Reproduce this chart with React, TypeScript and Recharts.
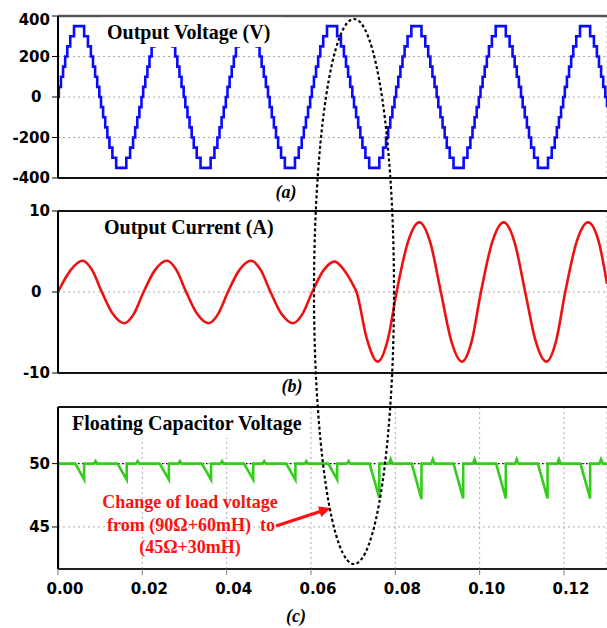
import React from "react";
import { LineChart, Line, XAxis, YAxis, CartesianGrid, ReferenceLine } from "recharts";

const tEnd = 0.1302;
const gridTimes = [0.02, 0.04, 0.06, 0.08, 0.1, 0.12];
const timeTicks = [0, 0.02, 0.04, 0.06, 0.08, 0.1, 0.12];

// (a) output voltage - one cycle of the 15-level staircase, repeated every period
const cycleStarts = [0, 0.02, 0.04, 0.06, 0.08, 0.1, 0.12];
const stepOffsets = [
  0, 0.0002, 0.0007, 0.0012, 0.0017, 0.0022, 0.0029, 0.0038, 0.0062, 0.0071, 0.0078, 0.0083, 0.0088, 0.0093,
  0.0098, 0.0102, 0.0107, 0.0112, 0.0117, 0.0122, 0.0129, 0.0138, 0.0162, 0.0171, 0.0178, 0.0183, 0.0188,
  0.0193, 0.0198,
];
const stepLevels = [
  0, 50, 100, 150, 200, 250, 300, 350, 300, 250, 200, 150, 100, 50, 0, -50, -100, -150, -200, -250, -300, -350,
  -300, -250, -200, -150, -100, -50, 0,
];
const voltageTicks = [-400, -200, 0, 200, 400];

// (b) output current
const currentTime = [
  0, 0.003, 0.0058, 0.0081, 0.0104, 0.013, 0.0157, 0.018,
  0.0203, 0.023, 0.0258, 0.0281, 0.0304, 0.033, 0.0357, 0.038,
  0.0403, 0.043, 0.0458, 0.0481, 0.0504, 0.053, 0.0557, 0.058,
  0.0603, 0.063, 0.0656, 0.068, 0.07, 0.0708, 0.0732, 0.0758, 0.0783,
  0.0803, 0.083, 0.0857, 0.0883, 0.0908, 0.0933, 0.0958, 0.0981,
  0.1003, 0.103, 0.1057, 0.1083, 0.1108, 0.1133, 0.1158, 0.1181,
  0.1203, 0.123, 0.1257, 0.1283, 0.1302,
];
const currentValue = [
  0, 2.7, 3.85, 2.7, 0, -2.7, -3.85, -2.7,
  0, 2.7, 3.85, 2.7, 0, -2.7, -3.85, -2.7,
  0, 2.7, 3.85, 2.7, 0, -2.7, -3.85, -2.7,
  0, 2.7, 3.75, 2.6, 0.86, 0, -5.7, -8.6, -5.7,
  0, 6.2, 8.6, 6.1, 0, -6.1, -8.6, -6.1,
  0, 6.2, 8.6, 6.1, 0, -6.1, -8.6, -6.1,
  0, 6.2, 8.6, 6.1, 1.0,
];
const currentTicks = [-10, 0, 10];

// (c) floating capacitor voltage
const capDomain = [41.68, 54.47];
const capStartLevel = 41.7;
const capNominal = 50;
const dipStart = [0.0041, 0.0141, 0.0241, 0.0341, 0.0441, 0.0541, 0.0641, 0.0739, 0.0839, 0.0938, 0.1039, 0.1138, 0.1239];
const dipBottom = [0.0062, 0.0163, 0.0263, 0.0363, 0.0463, 0.0563, 0.0662, 0.0762, 0.0862, 0.0961, 0.1062, 0.1161, 0.1262];
const dipDepth = [48.74, 48.74, 48.74, 48.74, 48.74, 48.74, 48.74, 47.3, 47.2, 47.25, 47.25, 47.25, 47.25];
const bumpTime = [0.0089, 0.0189, 0.0289, 0.0389, 0.0489, 0.0589, 0.0689, 0.0789, 0.0889, 0.0988, 0.1088, 0.1188, 0.1288];
const bumpPeak = [50.2, 50.2, 50.2, 50.2, 50.2, 50.2, 50.2, 50.35, 50.35, 50.35, 50.35, 50.35, 50.35];
const capTicks = [45, 50];

const voltageData: { t: number; v: number }[] = [];
cycleStarts.forEach((c) =>
  stepOffsets.forEach((o, i) => {
    const t = c + o;
    if (t <= tEnd) voltageData.push({ t, v: stepLevels[i] });
  })
);
voltageData.push({ t: tEnd, v: voltageData[voltageData.length - 1].v });

const currentData = currentTime.map((t, i) => ({ t, v: currentValue[i] }));

const capData: { t: number; v: number }[] = [
  { t: 0, v: capStartLevel },
  { t: 0, v: capNominal },
];
dipStart.forEach((s, i) => {
  capData.push({ t: s, v: capNominal });
  capData.push({ t: dipBottom[i], v: dipDepth[i] });
  capData.push({ t: dipBottom[i], v: capNominal });
  capData.push({ t: bumpTime[i] - 0.0004, v: capNominal });
  capData.push({ t: bumpTime[i], v: bumpPeak[i] });
  capData.push({ t: bumpTime[i] + 0.0004, v: capNominal });
});
capData.push({ t: tEnd, v: capNominal });

const tickFont = { fontFamily: "'DejaVu Sans', Verdana, sans-serif", fontWeight: 700, fontSize: 15 };
const serif = "'Liberation Serif', 'Times New Roman', serif";
const gridStyle = { stroke: "#aaa", strokeDasharray: "2 3" };

function YTick(props: any) {
  const { x, y, payload } = props;
  const v = payload.value;
  return (
    <text
      x={v === 0 ? x - 8.5 : x}
      y={v === 400 ? y + 4 : y}
      textAnchor="end"
      dominantBaseline="central"
      fill="#000"
      {...tickFont}
    >
      {v}
    </text>
  );
}

function XTick(props: any) {
  const { x, y, payload } = props;
  return (
    <text x={x + 7} y={y} dy="0.71em" textAnchor="middle" fill="#000" {...tickFont}>
      {payload.value.toFixed(2)}
    </text>
  );
}

const W = 607;

export default function App() {
  return (
    <div style={{ position: "absolute", left: 0, top: 0, width: W, height: 628, background: "#fff" }}>
      <div style={{ position: "absolute", left: 0, top: 0 }}>
        <LineChart width={W} height={190} data={voltageData} margin={{ top: 16, right: 0, bottom: 12, left: 0 }}>
          <CartesianGrid {...gridStyle} />
          <XAxis type="number" dataKey="t" domain={[0, tEnd]} ticks={gridTimes} height={0} tick={false} axisLine={false} tickLine={false} allowDataOverflow />
          <YAxis
            width={58}
            domain={[-400, 400]}
            ticks={voltageTicks}
            tick={YTick}
            tickSize={6}
            axisLine={{ stroke: "#000", strokeWidth: 2 }}
            tickLine={{ stroke: "#000" }}
          />
          <ReferenceLine y={400} stroke="#555" strokeWidth={2.5} />
          <ReferenceLine y={-400} stroke="#111" strokeWidth={2} />
          <Line type="stepAfter" dataKey="v" stroke="#0a0aff" strokeWidth={2.6} dot={false} isAnimationActive={false} />
        </LineChart>
      </div>

      <div style={{ position: "absolute", left: 0, top: 195 }}>
        <LineChart width={W} height={190} data={currentData} margin={{ top: 16, right: 0, bottom: 12, left: 0 }}>
          <CartesianGrid {...gridStyle} />
          <XAxis type="number" dataKey="t" domain={[0, tEnd]} ticks={gridTimes} height={0} tick={false} axisLine={false} tickLine={false} allowDataOverflow />
          <YAxis
            width={58}
            domain={[-10, 10]}
            ticks={currentTicks}
            tick={YTick}
            tickSize={6}
            axisLine={{ stroke: "#000", strokeWidth: 2 }}
            tickLine={{ stroke: "#000" }}
          />
          <ReferenceLine y={10} stroke="#111" strokeWidth={2} />
          <ReferenceLine y={-10} stroke="#111" strokeWidth={2} />
          <Line type="monotone" dataKey="v" stroke="#ee1111" strokeWidth={2.6} dot={false} isAnimationActive={false} />
        </LineChart>
      </div>

      <div style={{ position: "absolute", left: 0, top: 391 }}>
        <LineChart width={W} height={208} data={capData} margin={{ top: 16, right: 0, bottom: 0, left: 0 }}>
          <CartesianGrid {...gridStyle} />
          <XAxis
            type="number"
            dataKey="t"
            domain={[0, tEnd]}
            ticks={timeTicks}
            height={30}
            tick={XTick}
            tickSize={6}
            tickMargin={8}
            axisLine={{ stroke: "#222", strokeWidth: 2 }}
            tickLine={{ stroke: "#777" }}
            allowDataOverflow
          />
          <YAxis
            width={58}
            domain={capDomain}
            ticks={capTicks}
            tick={YTick}
            tickSize={6}
            axisLine={{ stroke: "#000", strokeWidth: 2 }}
            tickLine={{ stroke: "#000" }}
            allowDataOverflow
          />
          <ReferenceLine y={capDomain[1]} stroke="#111" strokeWidth={2} />
          <ReferenceLine y={50} stroke="#000" strokeDasharray="1.5 2.5" strokeWidth={1.2} />
          <Line type="linear" dataKey="v" stroke="#33cc1a" strokeWidth={2.6} dot={false} isAnimationActive={false} />
        </LineChart>
      </div>

      <svg width={W} height={628} style={{ position: "absolute", left: 0, top: 0, pointerEvents: "none" }}>
        <rect x={100} y={17.5} width={184} height={29.5} fill="#fff" />
        <text x={107} y={39.3} fontFamily={serif} fontWeight={700} fontSize={20} fill="#000">
          Output Voltage (V)
        </text>
        <rect x={98} y={212.5} width={186} height={29.5} fill="#fff" />
        <text x={104} y={234.3} fontFamily={serif} fontWeight={700} fontSize={20} fill="#000">
          Output Current (A)
        </text>
        <rect x={66} y={408.5} width={243} height={29.5} fill="#fff" />
        <text x={72} y={430} fontFamily={serif} fontWeight={700} fontSize={20} fill="#000">
          Floating Capacitor Voltage
        </text>

        <text x={286} y={197.5} textAnchor="middle" fontFamily={serif} fontWeight={700} fontStyle="italic" fontSize={18}>
          (a)
        </text>
        <text x={292} y={391.5} textAnchor="middle" fontFamily={serif} fontWeight={700} fontStyle="italic" fontSize={18}>
          (b)
        </text>
        <text x={296} y={621.5} textAnchor="middle" fontFamily={serif} fontWeight={700} fontStyle="italic" fontSize={18}>
          (c)
        </text>

        <g fontFamily={serif} fontWeight={700} fontSize={18} fill="#ff1010" textAnchor="middle">
          <text x={190} y={508.3}>Change of load voltage</text>
          <text x={191} y={531} style={{ whiteSpace: "pre" }}>
            {"from (90Ω+60mH)  to"}
          </text>
          <text x={190} y={553}>(45Ω+30mH)</text>
        </g>

        <line x1={276} y1={526} x2={321} y2={511.3} stroke="#ff1010" strokeWidth={3.2} />
        <polygon points="331,508 321.2,517 318,506.5" fill="#ff1010" />

        <ellipse cx={354} cy={291.5} rx={40} ry={272.5} fill="none" stroke="#000" strokeWidth={2.2} strokeDasharray="3 2.5" />
      </svg>
    </div>
  );
}
